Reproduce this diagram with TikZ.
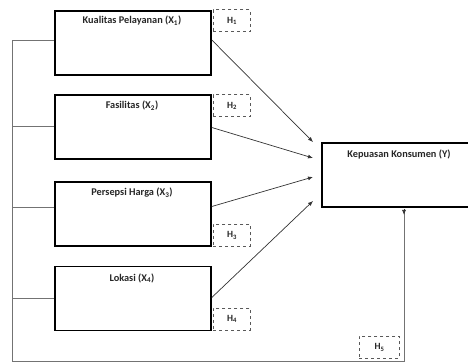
\documentclass[tikz,border=0pt]{standalone}
\usepackage{fontspec}
\setmainfont{Carlito}
\usetikzlibrary{arrows.meta}
\begin{document}
\begin{tikzpicture}[x=1pt,y=-1pt,
  varbox/.style={draw=black,line width=1.8pt,minimum width=156pt,minimum height=64pt,anchor=north west,inner sep=0pt},
  lbl/.style={font=\bfseries\fontsize{10.3}{12}\selectfont,text=black!85},
  hbox/.style={draw=black!65,dashed,line width=0.9pt,minimum width=37pt,minimum height=22pt,anchor=north west,inner sep=0pt,font=\bfseries\fontsize{9.5}{11}\selectfont,text=black!85},
  conn/.style={draw=black!55,line width=0.7pt},
  arr/.style={draw=black!80,line width=0.7pt,-{Latex[length=5pt,width=4pt]}}]
\useasboundingbox (0,0) rectangle (468,363);
\clip (0,0) rectangle (468,363);
\node[varbox] (x1) at (54,10) {};
\node[varbox] (x2) at (54,94.5) {};
\node[varbox] (x3) at (54,181.5) {};
\node[varbox] (x4) at (54,265.5) {};
\node[varbox,minimum width=160pt] (y) at (321,142) {};
\node[lbl] (t1) at (132,20.5) {Kualitas Pelayanan (X\textsubscript{1})};
\node[lbl] (t2) at (132,105.5) {Fasilitas (X\textsubscript{2})};
\node[lbl] (t3) at (132,193) {Persepsi Harga (X\textsubscript{3})};
\node[lbl] (t4) at (132,278) {Lokasi (X\textsubscript{4})};
\node[lbl] (ty) at (399,154.5) {Kepuasan Konsumen (Y)};
\node[hbox] (h1) at (213,9.5) {H\textsubscript{1}};
\node[hbox] (h2) at (213,94.5) {H\textsubscript{2}};
\node[hbox] (h3) at (213,224) {H\textsubscript{3}};
\node[hbox] (h4) at (213,307.5) {H\textsubscript{4}};
\node[hbox,minimum width=40pt] (h5) at (359,336) {H\textsubscript{5}};
\coordinate (a1) at (313,142);
\coordinate (a2) at (313,158);
\coordinate (a3) at (313,177);
\coordinate (a4) at (313,201);
\coordinate (a5) at (404,215);
\draw[arr] ([yshift=-30pt]x1.north east) -- (a1);
\draw[arr] ([yshift=-33pt]x2.north east) -- (a2);
\draw[arr] ([yshift=-25pt]x3.north east) -- (a3);
\draw[arr] ([yshift=-32pt]x4.north east) -- (a4);
\coordinate (l1) at (12,40);
\coordinate (l2) at (12,126);
\coordinate (l3) at (12,207);
\coordinate (l4) at (12,298);
\coordinate (lb) at (12,361.5);
\coordinate (rb) at (404,361.5);
\draw[conn] (x1.west |- l1) -- (l1) -- (lb) -- (rb);
\draw[conn] (x2.west |- l2) -- (l2);
\draw[conn] (x3.west |- l3) -- (l3);
\draw[conn] (x4.west |- l4) -- (l4);
\draw[conn] (rb) -- ([yshift=5pt]a5);
\draw[arr] ([yshift=6pt]a5) -- (a5);
\end{tikzpicture}
\end{document}
